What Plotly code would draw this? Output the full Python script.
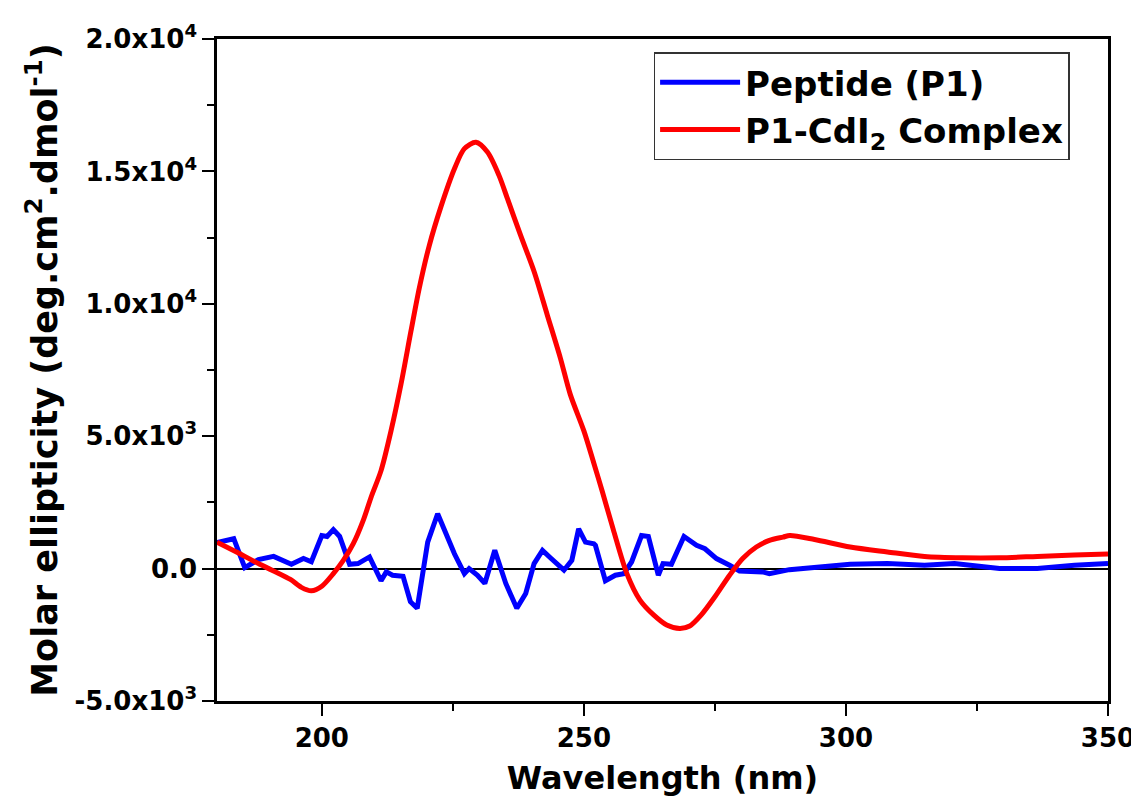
import plotly.graph_objects as go

# Peptide (P1)
wl_p1 = [180, 183.2, 185.3, 187.9, 190.8, 194.2, 196.5, 198, 200, 201, 202.2, 203.4,
         205.3, 206.9, 209.1, 211.3, 212.3, 213.5, 215.5, 216.9, 218.2, 220.2, 222.1,
         225.3, 227.2, 228.1, 229.7, 231.1, 233, 235.1, 237.2, 238.9, 240.5, 242.1,
         243.6, 246.2, 247.7, 249, 250.3, 251.9, 252.2, 253.1, 254.1, 256, 257.6,
         259.1, 261, 262.3, 264.2, 265.1, 266.7, 269.1, 271.5, 273.1, 275.3, 277.8,
         279.7, 284.1, 285.4, 289.2, 300.8, 307.9, 315, 320.7, 329.3, 336.5, 343.6, 350]
cd_p1 = [980, 1128, 40, 340, 460, 160, 380, 260, 1250, 1215, 1470, 1215,
         160, 190, 440, -460, -125, -250, -290, -1250, -1500, 1000, 2070,
         560, -190, 0, -250, -560, 690, -560, -1500, -940, 190, 690,
         410, -60, 310, 1500, 1000, 940, 880, 310, -460, -250, -190,
         250, 1250, 1215, -250, 190, 160, 1215, 880, 750, 380, 125,
         -90, -125, -190, -40, 160, 190, 125, 190, 0, 0, 125, 190]

# P1-CdI2 complex
wl_cx = [180, 184.1, 187.9, 190.5, 194, 196.1, 198, 200, 202.2, 204.1, 206, 207.9,
         209.5, 211.3, 213.2, 215.1, 217, 218.6, 220.5, 222.7, 225.3, 227.2, 229.4,
         231.6, 233.8, 235.4, 237.9, 240.5, 243, 245.5, 247.4, 250, 251.9, 253.5,
         255.6, 258.2, 260.7, 263.3, 265.8, 268.3, 270.2, 272.4, 275, 277.8, 280.3,
         282.9, 285.4, 288, 289.3, 294, 300.8, 307.9, 315, 322.2, 329.3, 336.5, 343.6, 350]
cd_cx = [1000, 590, 190, -60, -410, -710, -840, -665, -190, 310, 940, 1820,
         2750, 3700, 5200, 6960, 8960, 10600, 12200, 13650, 15100, 15860, 16100,
         15730, 14850, 13980, 12600, 11220, 9590, 7960, 6580, 5200, 3980, 2920,
         1480, -190, -1190, -1750, -2130, -2260, -2170, -1750, -1065, -250, 380,
         815, 1065, 1190, 1250, 1100, 815, 630, 460, 410, 410, 460, 510, 550]

y_tickvals = [-5000, 0, 5000, 10000, 15000, 20000]
y_ticktext = ["-5.0x10<sup>3</sup>", "0.0", "5.0x10<sup>3</sup>",
              "1.0x10<sup>4</sup>", "1.5x10<sup>4</sup>", "2.0x10<sup>4</sup>"]
x_tickvals = [200, 250, 300, 350]

FONT = "DejaVu Sans"

fig = go.Figure()
fig.add_trace(go.Scatter(x=wl_p1, y=cd_p1, mode="lines", name="<b>Peptide (P1)</b>",
                         line=dict(color="#0000FF", width=5)))
fig.add_trace(go.Scatter(x=wl_cx, y=cd_cx, mode="lines", name="<b>P1-CdI<sub>2</sub> Complex</b>",
                         line=dict(color="#FF0000", width=5, shape="spline", smoothing=0.8)))

axis_common = dict(showline=True, linecolor="black", linewidth=2.5, mirror=True,
                   ticks="outside", ticklen=12, tickwidth=2, tickcolor="black",
                   showgrid=False, tickfont=dict(family=FONT, size=26, color="black"))

fig.update_xaxes(range=[180, 350], tickvals=x_tickvals,
                 ticktext=[f"<b>{v}</b>" for v in x_tickvals],
                 minor=dict(ticks="outside", ticklen=7, tickwidth=2, tickcolor="black", dtick=25, tick0=175),
                 zeroline=False,
                 title=dict(text="<b>Wavelength (nm)</b>", font=dict(family=FONT, size=32, color="black"), standoff=15),
                 **axis_common)
fig.update_yaxes(range=[-5000, 20000], tickvals=y_tickvals,
                 ticktext=[f"<b>{t}</b>" for t in y_ticktext],
                 minor=dict(ticks="outside", ticklen=7, tickwidth=2, tickcolor="black", dtick=2500, tick0=0),
                 zeroline=True, zerolinecolor="black", zerolinewidth=2,
                 title=dict(text="<b>Molar ellipticity (deg.cm<sup>2</sup>.dmol<sup>-1</sup>)</b>",
                            font=dict(family=FONT, size=35, color="black"), standoff=7),
                 **axis_common)

fig.update_layout(
    width=1139, height=803,
    margin=dict(l=209, r=28, t=23, b=110),
    paper_bgcolor="white", plot_bgcolor="white",
    font=dict(family=FONT, color="black"),
    legend=dict(x=0.49, y=0.98, xanchor="left", yanchor="top",
                bgcolor="white", bordercolor="#333333", borderwidth=1.5,
                font=dict(family=FONT, size=34, color="black"),
                itemwidth=80, tracegroupgap=0),
    showlegend=True,
)

fig.write_html("out.html")
